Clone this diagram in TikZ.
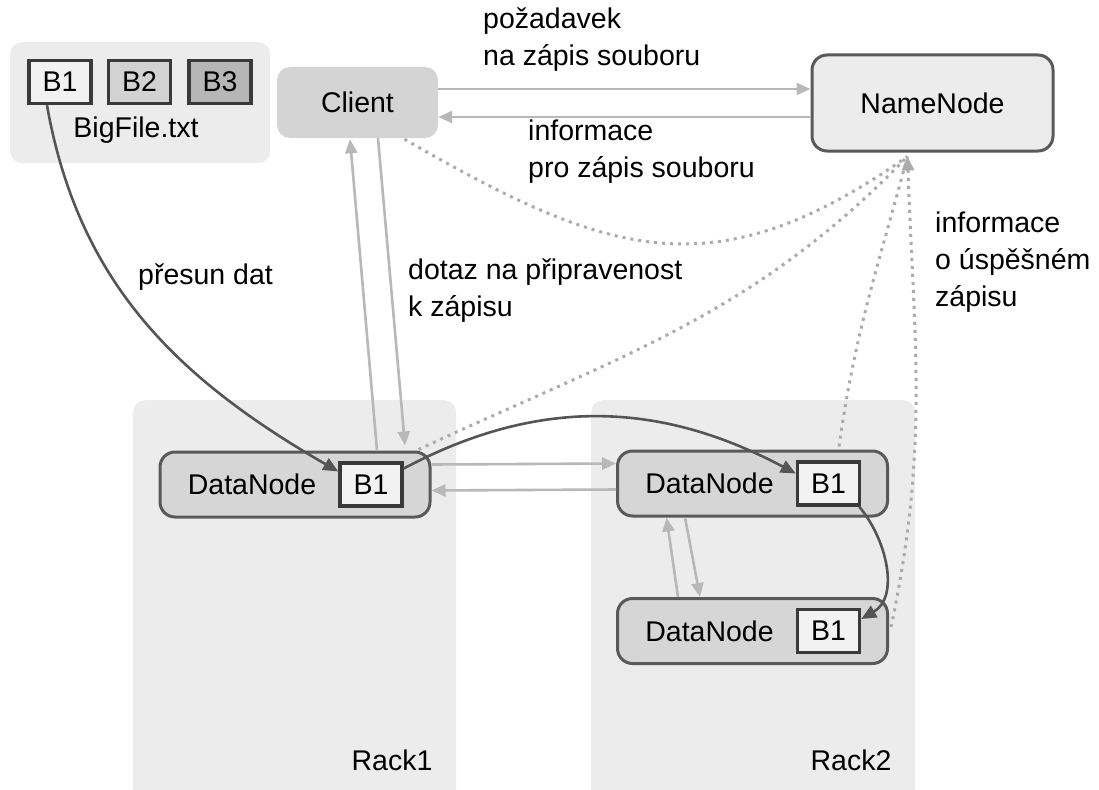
\documentclass[tikz,border=0pt]{standalone}
\usepackage{fontspec}
\setmainfont{Liberation Sans}
\usetikzlibrary{arrows.meta}
\definecolor{contc}{HTML}{ECECEC}
\definecolor{clientc}{HTML}{D4D4D4}
\definecolor{dnc}{HTML}{D6D6D6}
\definecolor{bonec}{HTML}{F2F2F2}
\definecolor{btwoc}{HTML}{D2D2D2}
\definecolor{bthreec}{HTML}{B6B6B6}
\definecolor{lightc}{HTML}{B8B8B8}
\definecolor{dotc}{HTML}{ABABAB}
\definecolor{darkc}{HTML}{555555}
\definecolor{bordc}{HTML}{595959}
\definecolor{blkbord}{HTML}{3A3A3A}
\tikzset{
  cont/.style={fill=contc, draw=none, rounded corners=12pt, inner sep=0pt},
  blk/.style={draw=blkbord, line width=3.5pt, minimum width=62pt, minimum height=43pt, inner sep=0pt},
  clientbox/.style={fill=clientc, draw=none, rounded corners=13pt, minimum width=161pt, minimum height=71pt, inner sep=0pt},
  nnbox/.style={fill=contc, draw=bordc, line width=3pt, rounded corners=15pt, minimum width=241pt, minimum height=96pt, inner sep=0pt},
  dnbox/.style={fill=dnc, draw=bordc, line width=3pt, rounded corners=15pt, minimum width=270pt, minimum height=65pt, inner sep=0pt},
  la/.style={draw=lightc, line width=2.6pt, -{Triangle[length=14pt,width=12pt]}},
  dotl/.style={draw=dotc, line width=3pt, dash pattern=on 3pt off 5pt},
  dotarr/.style={dotl, -{Triangle[length=14pt,width=12pt,fill=dotc]}},
  da/.style={draw=darkc, line width=2.6pt, -{Triangle[length=15pt,width=13pt]}},
  lbl/.style={anchor=west, align=left, inner sep=0pt}
}
\begin{document}
\begin{tikzpicture}[x=1pt,y=-1pt, font=\fontsize{28.5}{37}\selectfont]
\useasboundingbox (0,0) rectangle (1099,789);

% containers
\node[cont, minimum width=260pt, minimum height=121pt, anchor=north west] (bigc) at (10,42) {};
\node[cont, minimum width=323pt, minimum height=420pt, anchor=north west] (rack1) at (133,400) {};
\node[cont, minimum width=324pt, minimum height=420pt, anchor=north west] (rack2) at (591,400) {};
\node (rack1t) at (392,760) {Rack1};
\node (rack2t) at (851,760) {Rack2};

% file blocks
\node[blk, fill=bonec] (fb1) at (60,82) {B1};
\node[blk, fill=btwoc] (fb2) at (139.5,82) {B2};
\node[blk, fill=bthreec] (fb3) at (220,82) {B3};
\node (bigname) at (136,130) {BigFile.txt};

% client and namenode
\node[clientbox] (client) at (357.5,102.5) {Client};
\node[nnbox] (nn) at (932.5,103) {NameNode};

% datanodes
\node[dnbox] (dn1) at (295,484.5) {};
\node (dn1t) at ([xshift=-43pt]dn1.center) {DataNode};
\node[blk, fill=bonec] (dn1b) at (371,484.5) {B1};
\node[dnbox] (dn2) at (752.5,483.5) {};
\node (dn2t) at ([xshift=-43pt]dn2.center) {DataNode};
\node[blk, fill=bonec] (dn2b) at (828.5,483.5) {B1};
\node[dnbox] (dn3) at (752.5,631) {};
\node (dn3t) at ([xshift=-43pt]dn3.center) {DataNode};
\node[blk, fill=bonec] (dn3b) at (828.5,631) {B1};

% labels
\node[lbl] (l1) at (483,40) {požadavek\\na zápis souboru};
\node[lbl] (l2) at (528,152) {informace\\pro zápis souboru};
\node[lbl] (l3) at (138,277) {přesun dat};
\node[lbl] (l4) at (408,291) {dotaz na připravenost\\k zápisu};
\node[lbl] (l5) at (935,262) {informace\\o úspěšném\\zápisu};

% light arrows
\draw[la] ([yshift=13.5pt]client.east) -- ([yshift=14pt]nn.west);
\draw[la] ([yshift=-14pt]nn.west) -- ([yshift=-14.5pt]client.east);
\draw[la] ([xshift=82pt]dn1.north) -- ([xshift=-7.5pt,yshift=-1pt]client.south);
\draw[la] ([xshift=20.5pt]client.south) -- ([xshift=110pt,yshift=5pt]dn1.north);
\draw[la] ([yshift=20pt]dn1.east) -- ([yshift=20pt]dn2.west);
\draw[la] ([yshift=-6pt]dn2.west) -- ([yshift=-6pt]dn1.east);
\draw[la] ([xshift=-74.5pt]dn3.north) -- ([xshift=-86pt]dn2.south);
\draw[la] ([xshift=-67.5pt]dn2.south) -- ([xshift=-52.5pt]dn3.north);

% dotted lines to namenode
\coordinate (nnin) at ([xshift=-25pt,yshift=-4pt]nn.south);
\draw[dotl] ([xshift=47pt,yshift=-1pt]client.south) to[out=-30,in=-145,looseness=1.2] (nnin);
\draw[dotl] ([xshift=-13pt,yshift=1pt]dn1.north east) to[out=25,in=-134] (nnin);
\draw[dotl] ([xshift=-50pt,yshift=3pt]dn2.north east) to[out=82,in=-105] (nnin);
\draw[dotarr] ([xshift=2pt,yshift=4pt]dn3.east) to[out=78,in=-88] (nnin);

% dark data-flow arrows
\draw[da] ([xshift=-13pt]fb1.south) to[out=-80,in=150] ([yshift=13pt]dn1b.west);
\draw[da] ([yshift=16pt]dn1b.east) to[out=28,in=152] ([yshift=10pt]dn2b.west);
\draw[da] ([xshift=-2pt]dn2b.south east) to[out=-50,in=30] ([yshift=12pt]dn3b.east);
\end{tikzpicture}
\end{document}
